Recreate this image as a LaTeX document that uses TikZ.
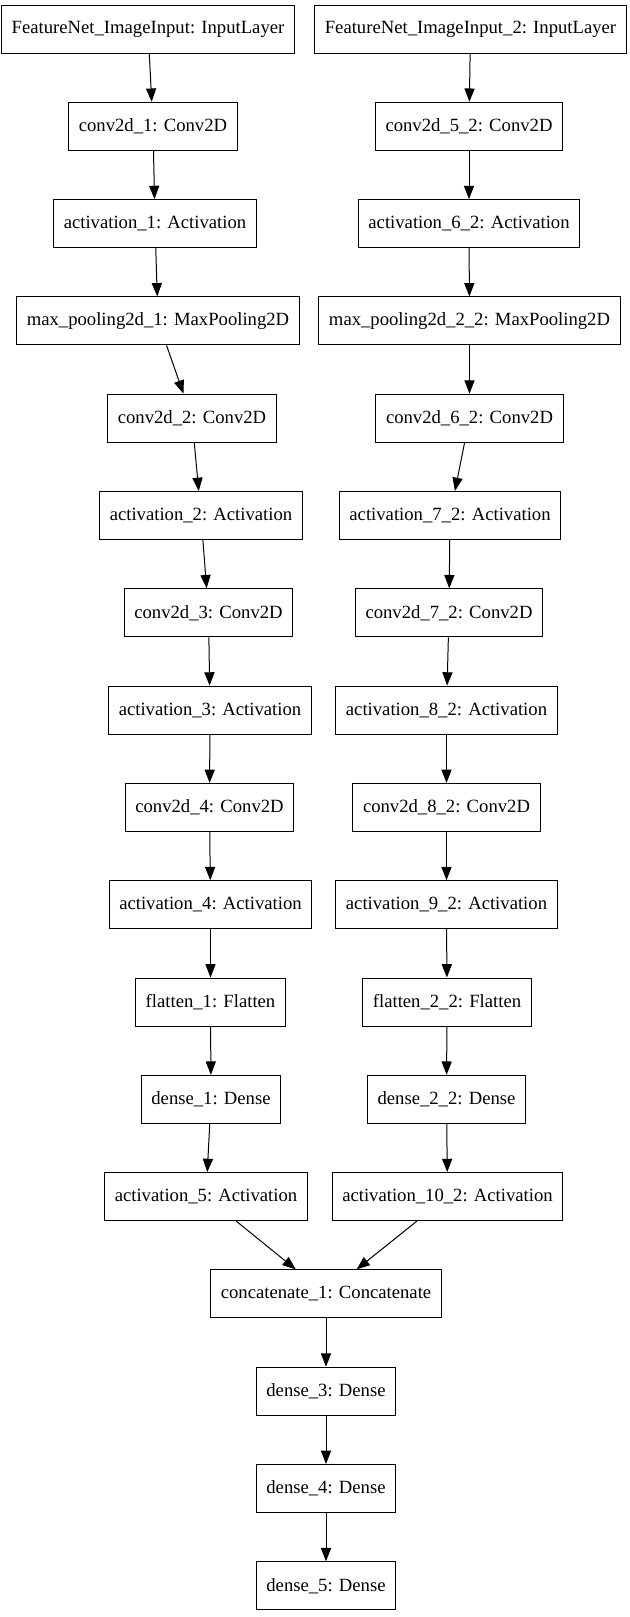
\documentclass[tikz,border=0pt]{standalone}
\usepackage{fontspec}
\setmainfont{Liberation Serif}
\usetikzlibrary{
	positioning				% relative placement
	, arrows.meta			% Triangle arrow tips
}

\begin{document}
\begin{tikzpicture}[
		x=0.75pt, y=-0.75pt
		, layer/.style={draw, line width=0.75pt, rectangle, inner xsep=7.6pt, inner ysep=0pt,
			minimum height=36pt, font=\fontsize{14}{16}\selectfont}
		, feed/.style={-{Triangle[length=10pt,width=7.6pt]}, line width=0.75pt}
	]
	\useasboundingbox (0,0) rectangle (629,1617);

	% Left branch of layers, one per row
	\foreach [count=\i from 0] \x/\layername/\layertext in {
		148/in1/{FeatureNet\_ImageInput: InputLayer},
		153/conv1/{conv2d\_1: Conv2D},
		155/act1/{activation\_1: Activation},
		158/pool1/{max\_pooling2d\_1: MaxPooling2D},
		192/conv2/{conv2d\_2: Conv2D},
		201/act2/{activation\_2: Activation},
		208.5/conv3/{conv2d\_3: Conv2D},
		210/act3/{activation\_3: Activation},
		209.5/conv4/{conv2d\_4: Conv2D},
		210.5/act4/{activation\_4: Activation},
		210.5/flat1/{flatten\_1: Flatten},
		211/dense1/{dense\_1: Dense},
		206/act5/{activation\_5: Activation}} {
		\node[layer] (\layername) at (\x, {29+97.3*\i}) {\layertext};
	};

	% Right branch of layers
	\foreach [count=\i from 0] \x/\layername/\layertext in {
		470.5/in2/{FeatureNet\_ImageInput\_2: InputLayer},
		469/conv5/{conv2d\_5\_2: Conv2D},
		469/act6/{activation\_6\_2: Activation},
		469.5/pool2/{max\_pooling2d\_2\_2: MaxPooling2D},
		469.5/conv6/{conv2d\_6\_2: Conv2D},
		450/act7/{activation\_7\_2: Activation},
		449/conv7/{conv2d\_7\_2: Conv2D},
		446.5/act8/{activation\_8\_2: Activation},
		446.5/conv8/{conv2d\_8\_2: Conv2D},
		446.5/act9/{activation\_9\_2: Activation},
		447/flat2/{flatten\_2\_2: Flatten},
		446.5/dense2/{dense\_2\_2: Dense},
		447.5/act10/{activation\_10\_2: Activation}} {
		\node[layer] (\layername) at (\x, {29+97.3*\i}) {\layertext};
	};

	% Merged tail
	\foreach [count=\i from 13] \x/\layername/\layertext in {
		326/concat/{concatenate\_1: Concatenate},
		326/dense3/{dense\_3: Dense},
		326/dense4/{dense\_4: Dense},
		326/dense5/{dense\_5: Dense}} {
		\node[layer] (\layername) at (\x, {29+97.3*\i}) {\layertext};
	};

	% Connect each layer to the next one
	\foreach \from/\to in {in1/conv1, conv1/act1, act1/pool1, pool1/conv2, conv2/act2,
		act2/conv3, conv3/act3, act3/conv4, conv4/act4, act4/flat1, flat1/dense1, dense1/act5,
		in2/conv5, conv5/act6, act6/pool2, pool2/conv6, conv6/act7, act7/conv7, conv7/act8,
		act8/conv8, conv8/act9, act9/flat2, flat2/dense2, dense2/act10,
		act5/concat, act10/concat, concat/dense3, dense3/dense4, dense4/dense5} {
		\draw[feed] (\from) -- (\to);
	};
\end{tikzpicture}
\end{document}
